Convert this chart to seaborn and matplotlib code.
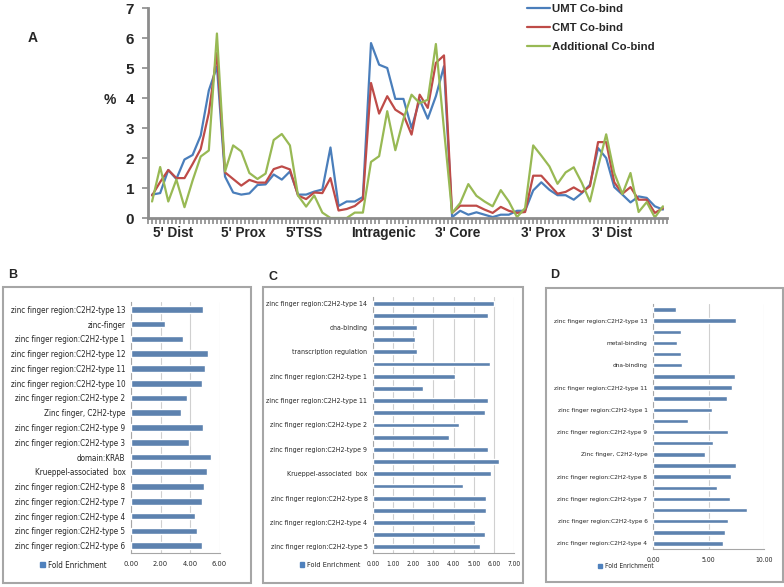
import numpy as np
import pandas as pd
import seaborn as sns
import matplotlib.pyplot as plt
from matplotlib import font_manager
from matplotlib.font_manager import FontProperties
from matplotlib.textpath import TextPath
from matplotlib.patches import Rectangle, Patch

sns.set_theme(style="white")
plt.rcParams['font.family'] = ['Liberation Sans', 'DejaVu Sans']

# ---------------- data ----------------
# panel A: % of peaks along gene regions (64 bins)
umt = [0.78, 0.83, 1.6, 1.3, 1.95, 2.1, 2.75, 4.25, 5.05, 1.38,
       0.85, 0.78, 0.82, 1.1, 1.12, 1.45, 1.28, 1.55, 0.78, 0.78,
       0.88, 0.95, 2.35, 0.4, 0.55, 0.55, 0.7, 5.83, 5.11, 5.0,
       3.97, 3.97, 3.0, 3.94, 3.31, 4.06, 5.06, 0.03, 0.24, 0.11,
       0.19, 0.11, 0.03, 0.11, 0.11, 0.24, 0.24, 0.92, 1.19, 0.94,
       0.76, 0.76, 0.61, 0.83, 1.11, 2.33, 2.0, 1.03, 0.78, 0.52,
       0.72, 0.67, 0.39, 0.28]
cmt = [0.75, 1.2, 1.6, 1.33, 1.33, 1.8, 2.3, 3.5, 5.5, 1.52,
       1.3, 1.08, 1.27, 1.18, 1.18, 1.63, 1.72, 1.62, 0.75, 0.63,
       0.85, 0.83, 1.33, 0.25, 0.3, 0.4, 0.62, 4.5, 3.48, 4.06,
       3.61, 3.44, 2.78, 4.11, 3.67, 5.17, 5.42, 0.17, 0.41, 0.41,
       0.41, 0.28, 0.17, 0.37, 0.24, 0.17, 0.2, 1.41, 1.41, 1.11,
       0.81, 0.87, 1.02, 0.86, 1.06, 2.53, 2.53, 1.19, 0.81, 1.03,
       0.61, 0.61, 0.17, 0.33]
additional = [0.55, 1.7, 0.55, 1.28, 0.36, 1.25, 2.05, 2.25, 6.15, 1.55,
              2.42, 2.22, 1.5, 1.3, 1.48, 2.6, 2.8, 2.42, 0.75, 0.38,
              0.75, 0.18, 0.0, 0.0, 0.0, 0.18, 0.18, 1.87, 2.06, 3.56,
              2.26, 3.3, 4.11, 3.83, 3.94, 5.8, 2.95, 0.17, 0.5, 1.13,
              0.74, 0.55, 0.39, 0.93, 0.55, 0.03, 0.33, 2.42, 2.08, 1.72,
              1.14, 1.52, 1.69, 1.17, 0.55, 1.7, 2.79, 1.5, 0.8, 1.5,
              0.2, 0.53, 0.02, 0.39]
series_names = ["UMT Co-bind", "CMT Co-bind", "Additional Co-bind"]
region_labels = ["5' Dist", "5' Prox", "5'TSS", "Intragenic", "3' Core", "3' Prox", "3' Dist"]
region_pos = [2.6, 11.2, 18.7, 28.5, 37.7, 48.2, 56.7]

# panel B
b_terms = ["zinc finger region:C2H2-type 13", "zinc-finger", "zinc finger region:C2H2-type 1",
           "zinc finger region:C2H2-type 12", "zinc finger region:C2H2-type 11",
           "zinc finger region:C2H2-type 10", "zinc finger region:C2H2-type 2",
           "Zinc finger, C2H2-type", "zinc finger region:C2H2-type 9",
           "zinc finger region:C2H2-type 3", "domain:KRAB", "Krueppel-associated  box",
           "zinc finger region:C2H2-type 8", "zinc finger region:C2H2-type 7",
           "zinc finger region:C2H2-type 4", "zinc finger region:C2H2-type 5",
           "zinc finger region:C2H2-type 6"]
b_fold = [4.87, 2.29, 3.52, 5.2, 5.03, 4.81, 3.8, 3.41, 4.87, 3.92,
          5.43, 5.15, 4.92, 4.81, 4.31, 4.48, 4.81]

# panel C (only every other category label is shown)
c_labels = ["zinc finger region:C2H2-type 14", "", "dna-binding", "", "transcription regulation", "",
            "zinc finger region:C2H2-type 1", "", "zinc finger region:C2H2-type 11", "",
            "zinc finger region:C2H2-type 2", "", "zinc finger region:C2H2-type 9", "",
            "Krueppel-associated  box", "", "zinc finger region:C2H2-type 8", "",
            "zinc finger region:C2H2-type 4", "", "zinc finger region:C2H2-type 5"]
c_fold = [6.0, 5.73, 2.17, 2.1, 2.17, 5.82, 4.07, 2.5, 5.72, 5.57, 4.28,
          3.77, 5.72, 6.24, 5.86, 4.45, 5.63, 5.63, 5.06, 5.57, 5.3]

# panel D
d_labels = ["", "zinc finger region:C2H2-type 13", "", "metal-binding", "", "dna-binding", "",
            "zinc finger region:C2H2-type 11", "", "zinc finger region:C2H2-type 1", "",
            "zinc finger region:C2H2-type 9", "", "Zinc finger, C2H2-type", "",
            "zinc finger region:C2H2-type 8", "", "zinc finger region:C2H2-type 7", "",
            "zinc finger region:C2H2-type 6", "", "zinc finger region:C2H2-type 4"]
d_fold = [2.1, 7.45, 2.5, 2.16, 2.52, 2.64, 7.36, 7.12, 6.63, 5.29, 3.12,
          6.78, 5.4, 4.68, 7.45, 7.03, 5.74, 6.97, 8.44, 6.75, 6.5, 6.33]

W, H = 784, 587


# pick a narrow sans font if one is installed (labels in the bar panels are condensed)
def pick_narrow():
    best, best_rank = None, 99
    for f in font_manager.fontManager.ttflist:
        n = f.name.lower()
        if f.style != 'normal' or str(f.weight) not in ('400', 'normal', 'regular', 'book'):
            continue
        if 'mono' in n or 'cjk' in n or ('serif' in n and 'sans' not in n):
            continue
        narrow = 'narrow' in n or 'condensed' in n or str(f.stretch) in (
            'condensed', 'semi-condensed', 'extra-condensed', '75', '87')
        if not narrow:
            continue
        rank = 0 if 'liberation' in n else 1 if 'dejavu' in n else 2 if 'noto' in n else 3
        if rank < best_rank:
            best, best_rank = f, rank
    if best is None:
        return FontProperties(family='Liberation Sans')
    return FontProperties(fname=best.fname)


NARROW_FP = pick_narrow()


def fit_fp(text, px):
    # font properties so that `text` spans about `px` pixels
    w1 = TextPath((0, 0), text, size=1, prop=NARROW_FP).get_extents().width
    fp = NARROW_FP.copy()
    fp.set_size(px * 0.72 / w1)
    return fp


def fbox(x0, y0, x1, y1):
    # pixel box (top-left origin) -> figure fraction rect
    return [x0 / W, 1 - y1 / H, (x1 - x0) / W, (y1 - y0) / H]


fig = plt.figure(figsize=(7.84, 5.87), dpi=100)
GRAY = '#8c8c8c'

# ---------------- panel A ----------------
axA = fig.add_axes(fbox(148, 8, 667, 218))
dfA = pd.DataFrame({
    'pos': np.tile(np.arange(len(umt)), 3),
    'pct': umt + cmt + additional,
    'series': np.repeat(series_names, len(umt)),
})
sns.lineplot(data=dfA, x='pos', y='pct', hue='series',
             palette=['#4a7ebb', '#be4b48', '#98b954'], linewidth=1.6, ax=axA)
axA.set_xlim(-0.5, 63.5)
axA.set_ylim(0, 7)
axA.set_xlabel("")
axA.set_ylabel("")
axA.set_yticks(range(8))
axA.set_yticklabels([str(i) for i in range(8)], fontweight='bold', fontsize=11)
axA.set_xticks(region_pos)
axA.set_xticklabels(region_labels, fontweight='bold', fontsize=9.8)
axA.set_xticks(np.arange(-0.5, 64, 0.5), minor=True)
axA.tick_params(axis='x', which='major', length=0, pad=6)
axA.tick_params(axis='x', which='minor', length=4, width=1.2, color=GRAY, direction='out', bottom=True)
axA.tick_params(axis='y', length=4, width=1.2, color=GRAY, direction='out', left=True, pad=6)
for s in ['top', 'right']:
    axA.spines[s].set_visible(False)
for s in ['left', 'bottom']:
    axA.spines[s].set_color(GRAY)
    axA.spines[s].set_linewidth(2)
axA.legend(loc='upper left', bbox_to_anchor=(527 / W, 1 - 4 / H), bbox_transform=fig.transFigure,
           frameon=False, borderpad=0, borderaxespad=0, handlelength=2.0, handletextpad=0.2,
           labelspacing=0.78, prop={'weight': 'bold', 'size': 8.2})
fig.text(33 / W, 1 - 38 / H, "A", fontsize=10, fontweight='bold', va='center', ha='center')
fig.text(110 / W, 1 - 100 / H, "%", fontsize=10, fontweight='bold', va='center', ha='center')


# ---------------- bar panels ----------------
def bar_panel(rect, box, letter, letter_xy, cats, vals, xmax, xticks,
              legend_xy, bw, label_px, tick_px, leg_px):
    fig.patches.append(Rectangle((box[0] / W, 1 - box[3] / H), (box[2] - box[0]) / W,
                                 (box[3] - box[1]) / H, transform=fig.transFigure,
                                 fill=False, edgecolor='#a6a6a6', linewidth=1.5))
    fig.text(letter_xy[0] / W, 1 - letter_xy[1] / H, letter, fontsize=9, fontweight='bold',
             ha='center', va='center')
    ax = fig.add_axes(fbox(*rect))
    ids = [f"c{i}" for i in range(len(vals))]
    sns.barplot(x=vals, y=ids, orient='h', color='#4f81bd', width=bw, ax=ax, zorder=3)
    lab_fp = fit_fp("zinc finger region:C2H2-type 13", label_px)
    tick_fp = fit_fp("0.00", tick_px)
    ax.set_yticks(range(len(cats)))
    ax.set_yticklabels(cats, fontproperties=lab_fp)
    ax.set_xlim(0, xmax)
    ax.set_xticks(xticks)
    ax.set_xticklabels([f"{t:.2f}" for t in xticks], fontproperties=tick_fp)
    ax.grid(axis='x', color='#d0d0d0', linewidth=0.8, zorder=0)
    ax.tick_params(axis='y', length=0, pad=4)
    ax.tick_params(axis='x', length=0, pad=6)
    for s in ['top', 'right']:
        ax.spines[s].set_visible(False)
    for s in ['left', 'bottom']:
        ax.spines[s].set_color('#a6a6a6')
        ax.spines[s].set_linewidth(0.8)
    ax.legend(handles=[Patch(color='#4f81bd')], labels=['Fold Enrichment'],
              loc='center left', bbox_to_anchor=(legend_xy[0] / W, 1 - legend_xy[1] / H),
              bbox_transform=fig.transFigure, frameon=False, borderpad=0, borderaxespad=0,
              handlelength=0.6, handleheight=0.6, handletextpad=0.4,
              prop=fit_fp("Fold Enrichment", leg_px))
    return ax


bar_panel((131, 302, 219.5, 553), (3, 287, 251, 583), "B", (13, 275), b_terms, b_fold, 6,
          [0, 2, 4, 6], (40, 565), 0.45, 114, 14, 58)
bar_panel((373, 297, 514, 553), (263, 287, 523, 583), "C", (273, 277), c_labels, c_fold, 7,
          [0, 1, 2, 3, 4, 5, 6, 7], (300, 565), 0.4, 100, 12.5, 52)
bar_panel((653, 304, 764, 549), (546, 288, 783, 582), "D", (555, 275), d_labels, d_fold, 10,
          [0, 5, 10], (598, 566), 0.4, 92, 13, 48)

fig.savefig("out.png", dpi=100)
